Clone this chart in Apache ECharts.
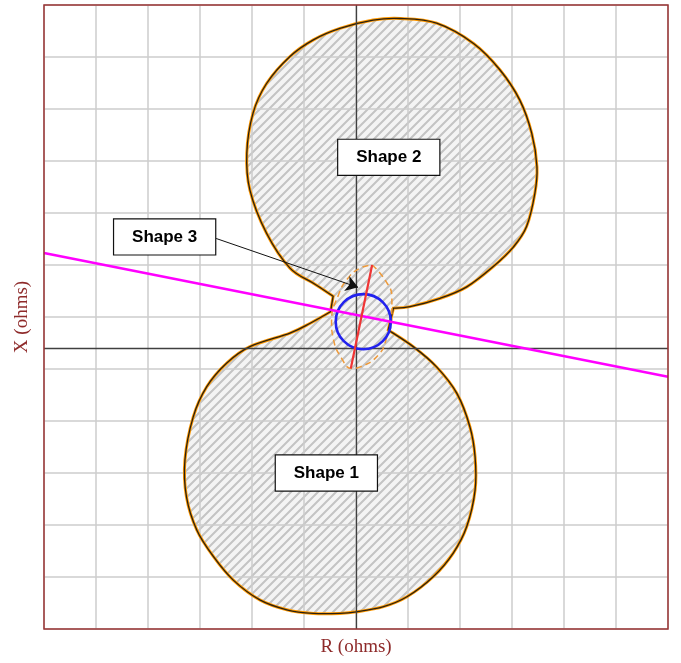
<!DOCTYPE html>
<html><head><meta charset="utf-8">
<script src="https://cdn.jsdelivr.net/npm/echarts@6/dist/echarts.min.js"></script>
<style>html,body{margin:0;padding:0;background:#fff}#c{width:681px;height:663px}</style>
</head><body><div id="c"></div>
<script>
// Axis ranges (grid unit = 1 ohm)
const rRange = [-6, 6];
const xRange = [-5.4, 6.6];
const gridStep = 1;

// Shape 2 (upper lobe) outline [R, X], from right notch round the top to left notch
const shape2Outline = [
  [0.72,0.77],[1.04,0.80],[1.62,0.96],[2.13,1.18],[2.64,1.57],[3.03,1.95],[3.28,2.34],
  [3.44,2.98],[3.48,3.49],[3.38,4.13],[3.15,4.77],[2.77,5.35],[2.26,5.86],[1.55,6.25],
  [0.85,6.34],[0.33,6.31],[-0.31,6.15],[-0.82,5.93],[-1.27,5.61],[-1.72,5.09],[-1.98,4.52],
  [-2.10,3.75],[-2.04,3.04],[-1.72,2.21],[-1.27,1.54],[-0.82,1.25],[-0.44,1.00]
];
// Shape 1 (lower lobe) outline [R, X], from left notch round the bottom to right notch
const shape1Outline = [
  [-0.49,0.70],[-0.88,0.48],[-1.27,0.29],[-2.04,0.03],[-2.49,-0.29],[-2.87,-0.74],[-3.13,-1.32],
  [-3.29,-2.15],[-3.26,-2.86],[-3.06,-3.50],[-2.74,-4.01],[-2.36,-4.46],[-1.85,-4.84],[-1.33,-5.03],
  [-0.82,-5.10],[-0.31,-5.10],[0.01,-5.07],[0.53,-4.97],[0.98,-4.78],[1.49,-4.39],[1.87,-3.94],
  [2.13,-3.43],[2.29,-2.73],[2.29,-2.09],[2.19,-1.51],[1.94,-0.87],[1.55,-0.36],[1.10,0.03],[0.62,0.35]
];
// Shape 3: dashed lens, line-angle segment, circle
const shape3Lens = [
  [0.31,1.60],[0.56,1.31],[0.69,0.97],[0.69,0.64],[0.59,0.20],[0.43,-0.13],[0.08,-0.36],[-0.08,-0.39],
  [-0.28,-0.19],[-0.44,0.20],[-0.47,0.51],[-0.34,1.02],[-0.15,1.35],[0.08,1.54],[0.31,1.60]
];
const shape3Line = [[0.31,1.60],[-0.10,-0.39]];
const shape3Circle = [0.14, 0.51, 0.53]; // centre R, centre X, radius
// Load line
const loadLine = [[-6,1.83],[6,-0.55]];
// Callout arrow for Shape 3
const arrowLine = [[-2.69,2.11],[0.04,1.17]];
// Labels
const labelNames = ['Shape 1','Shape 2','Shape 3'];
const labelR = [-0.57, 0.63, -3.68];
const labelX = [-2.40, 3.67, 2.14];

function hatch(){
  const s = 9, c = document.createElement('canvas');
  c.width = s; c.height = s;
  const g = c.getContext('2d');
  g.fillStyle = 'rgba(0,0,0,0.045)'; g.fillRect(0,0,s,s);
  g.strokeStyle = '#c4c4c4'; g.lineWidth = 2.1;
  g.beginPath();
  g.moveTo(-1,s+1); g.lineTo(s+1,-1);
  g.moveTo(-1,1); g.lineTo(1,-1);
  g.moveTo(s-1,s+1); g.lineTo(s+1,s-1);
  g.stroke();
  return c;
}
const hatchCanvas = hatch();

// Catmull-Rom bezier segments through already-mapped pixel points (open run)
function curveSegs(p){
  let d = '';
  for (let i = 0; i < p.length - 1; i++) {
    const p0 = p[i-1] || p[i], p1 = p[i], p2 = p[i+1], p3 = p[i+2] || p[i+1];
    const c1 = [p1[0] + (p2[0]-p0[0])/6, p1[1] + (p2[1]-p0[1])/6];
    const c2 = [p2[0] - (p3[0]-p1[0])/6, p2[1] - (p3[1]-p1[1])/6];
    d += ' C' + c1[0] + ',' + c1[1] + ' ' + c2[0] + ',' + c2[1] + ' ' + p2[0] + ',' + p2[1];
  }
  return d;
}

const chart = echarts.init(document.getElementById('c'), null, {renderer:'canvas'});
const titleStyle = {fontFamily:'Liberation Serif', fontSize:19, color:'#8e2a2a'};
chart.setOption({
  animation:false,
  backgroundColor:'#fff',
  grid:{left:44, right:13, top:5, bottom:34, show:true, z:20, borderColor:'#993333', borderWidth:1.5, backgroundColor:'transparent'},
  xAxis:{type:'value', min:rRange[0], max:rRange[1], interval:gridStep, z:2,
    name:'R (ohms)', nameLocation:'middle', nameGap:9, nameTextStyle:titleStyle,
    axisLine:{show:false, onZero:false}, axisTick:{show:false}, axisLabel:{show:false},
    splitLine:{show:true, lineStyle:{color:'#cccccc', width:1.5}}},
  yAxis:{type:'value', min:xRange[0], max:xRange[1], interval:gridStep, z:2,
    name:'X (ohms)', nameLocation:'middle', nameGap:12, nameTextStyle:titleStyle,
    axisLine:{show:false, onZero:false}, axisTick:{show:false}, axisLabel:{show:false},
    splitLine:{show:true, lineStyle:{color:'#cccccc', width:1.5}}},
  series:[
    // hatched fill
    {type:'custom', z:1, silent:true, data:[[0,0]],
      renderItem:(params, api) => {
        const a = shape2Outline.map(p => api.coord(p));
        const b = shape1Outline.map(p => api.coord(p));
        const d = 'M' + a[0][0] + ',' + a[0][1] + curveSegs(a) + ' L' + b[0][0] + ',' + b[0][1] + curveSegs(b) + ' Z';
        return {type:'path', shape:{pathData:d}, style:{fill:{image:hatchCanvas, repeat:'repeat'}, stroke:null}};
      }},
    // outline (orange under, black over)
    {type:'custom', z:3, silent:true, data:[[0,0]],
      renderItem:(params, api) => {
        const a = shape2Outline.map(p => api.coord(p));
        const b = shape1Outline.map(p => api.coord(p));
        const d = 'M' + a[0][0] + ',' + a[0][1] + curveSegs(a) + ' L' + b[0][0] + ',' + b[0][1] + curveSegs(b) + ' Z';
        return {type:'group', children:[
          {type:'path', shape:{pathData:d}, style:{fill:null, stroke:'#ff9900', lineWidth:3}},
          {type:'path', shape:{pathData:d}, style:{fill:null, stroke:'#2a2010', lineWidth:1.3}}
        ]};
      }},
    {type:'line', z:5, silent:true, data:shape3Lens, smooth:true, showSymbol:false, symbol:'none',
      lineStyle:{color:'#ee9a3a', width:1.5, type:[6,4]}},
    {type:'custom', z:6, silent:true, data:[shape3Circle],
      renderItem:(params, api) => {
        const c = api.coord([api.value(0), api.value(1)]);
        const r = api.size([api.value(2), 0])[0];
        return {type:'circle', shape:{cx:c[0], cy:c[1], r:r}, style:{fill:null, stroke:'#2222ee', lineWidth:2.6}};
      }},
    {type:'line', z:7, silent:true, data:loadLine, showSymbol:false, symbol:'none',
      lineStyle:{color:'#ff00ff', width:2.6},
      markLine:{silent:true, symbol:'none', label:{show:false}, z:4,
        lineStyle:{color:'#404040', width:1.3, type:'solid'},
        data:[{xAxis:0},{yAxis:0}]}},
    {type:'line', z:8, silent:true, data:shape3Line, showSymbol:false, symbol:'none',
      lineStyle:{color:'#f03535', width:2.2}},
    {type:'lines', z:9, silent:true, coordinateSystem:'cartesian2d',
      symbol:['none','arrow'], symbolSize:12,
      lineStyle:{color:'#111', width:1, opacity:1},
      data:[{coords:arrowLine}]},
    {type:'scatter', z:10, silent:true, symbolSize:1, itemStyle:{color:'#fff', opacity:1},
      data:labelNames.map((n,i) => ({name:n, value:[labelR[i], labelX[i]]})),
      label:{show:true, position:'inside', formatter:'{b}', fontFamily:'Liberation Sans', fontWeight:'bold',
        fontSize:17, color:'#000', backgroundColor:'#fff', borderColor:'#111', borderWidth:1.2, opacity:1,
        width:101, height:35, lineHeight:35, align:'center', verticalAlign:'middle', padding:0}}
  ]
});
</script></body></html>
